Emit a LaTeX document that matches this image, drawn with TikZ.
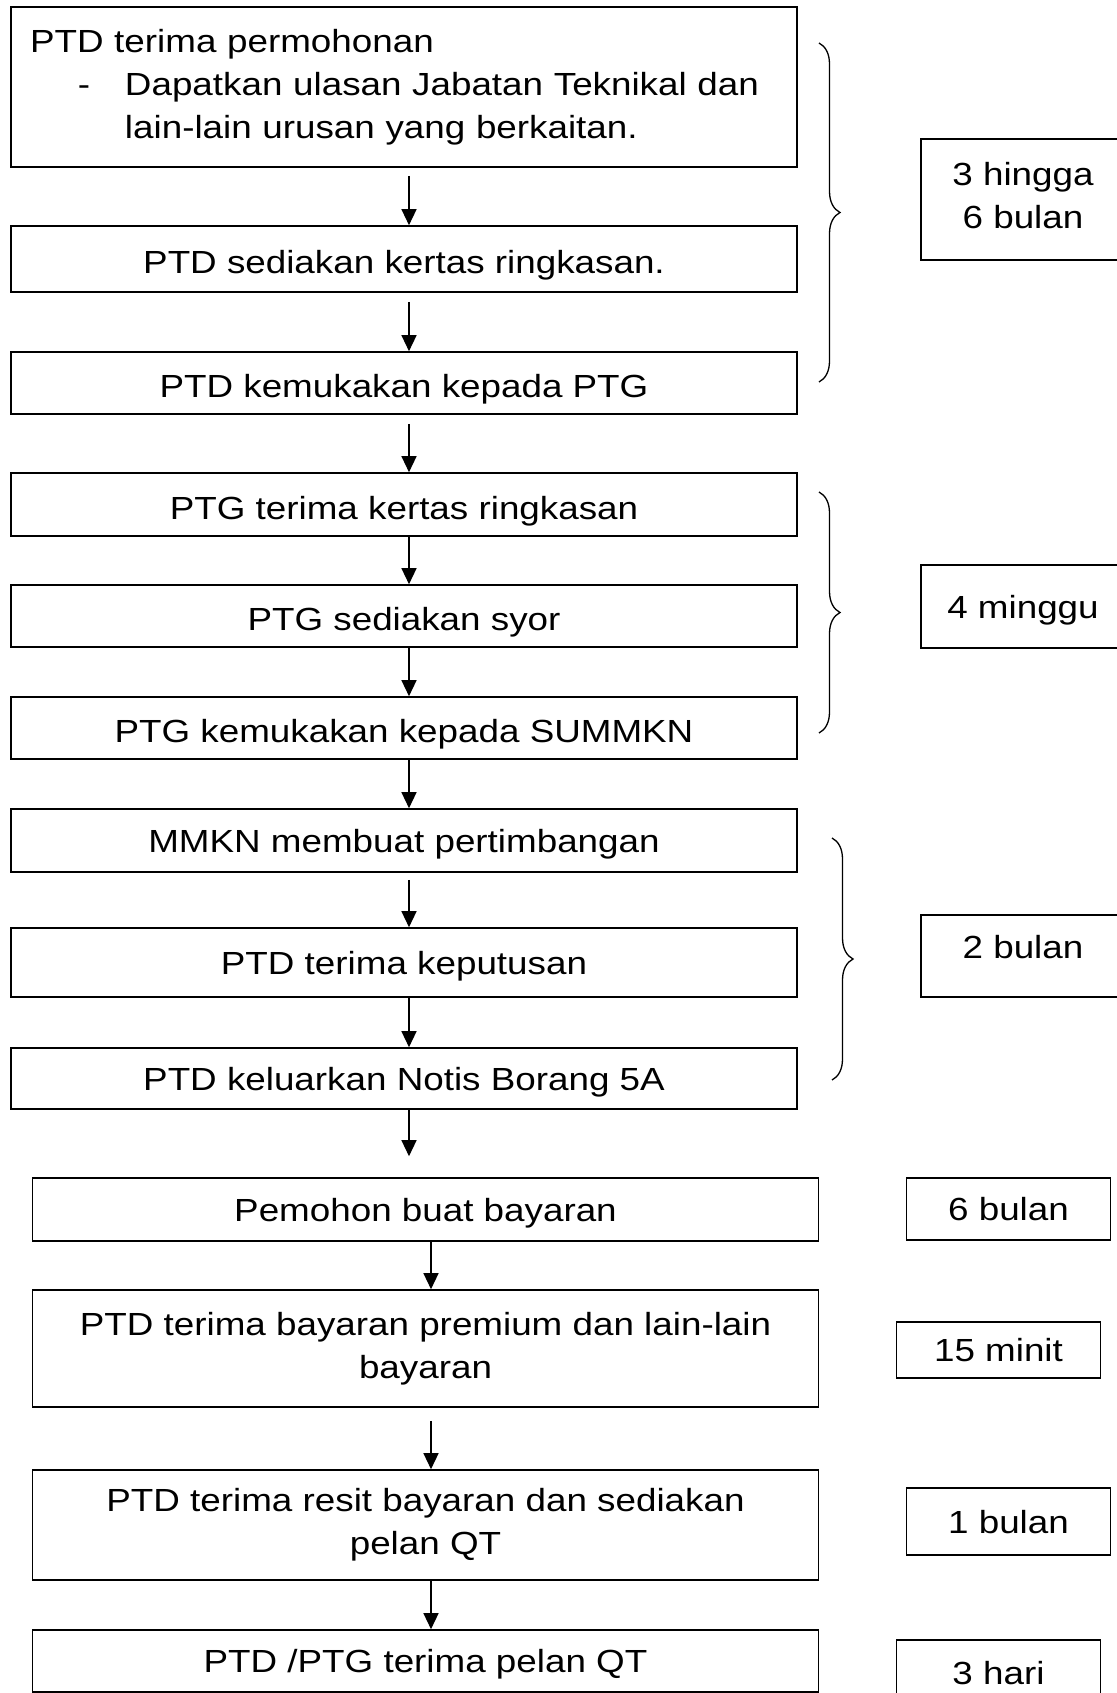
\documentclass[tikz,border=0pt]{standalone}
\usepackage{fontspec}
\setmainfont[FakeStretch=1.15]{Liberation Sans}
\usepackage{tikz}
\usetikzlibrary{positioning,arrows.meta,decorations.pathreplacing,calc}

\begin{document}
\begin{tikzpicture}[x=1pt,y=-1pt,>={Triangle[length=16pt,width=15pt]},font=\fontsize{32}{43}\selectfont]
%\draw[gray,very thin] (0,0) grid (1116,1693);
\useasboundingbox (0,0) rectangle (1116,1693);
\tikzstyle{block} = [draw, shape=rectangle, minimum width=786pt, line width=1.6pt, inner sep=0pt]
\tikzstyle{single} = [block, text height=23pt, text depth=0pt]
\tikzstyle{timebox} = [draw, shape=rectangle, minimum width=204pt, line width=1.6pt, inner sep=0pt, text height=23pt, text depth=0pt]
\tikzstyle{bracket} = [decorate, decoration={brace, amplitude=21pt}, line width=1.3pt]
%Creating Blocks
\node at (404,87) [block, minimum height=160pt, text width=748pt, inner xsep=19pt, align=left] (b1) {PTD terima permohonan\\
\makebox[95pt][l]{\hspace*{48pt}-}Dapatkan ulasan Jabatan Teknikal dan\\
\hspace*{95pt}lain-lain urusan yang berkaitan.};
\node at (404,259) [single, minimum height=66pt, text height=29pt] (b2) {PTD sediakan kertas ringkasan.};
\node at (404,383) [single, minimum height=62pt, text height=29pt] (b3) {PTD kemukakan kepada PTG};
\node at (404,504.5) [single, minimum height=63pt, text height=29pt] (b4) {PTG terima kertas ringkasan};
\node at (404,616) [single, minimum height=62pt, text height=29pt] (b5) {PTG sediakan syor};
\node at (404,728) [single, minimum height=62pt, text height=29pt] (b6) {PTG kemukakan kepada SUMMKN};
\node at (404,840.5) [single, minimum height=63pt] (b7) {MMKN membuat pertimbangan};
\node at (404,962.5) [single, minimum height=69pt] (b8) {PTD terima keputusan};
\node at (404,1078.5) [single, minimum height=61pt] (b9) {PTD keluarkan Notis Borang 5A};
\node at (425.5,1209.5) [single, minimum height=63pt] (b10) {Pemohon buat bayaran};
\node at (425.5,1348.5) [block, minimum height=117pt, align=center] (b11) {PTD terima bayaran premium dan lain-lain\\ bayaran};
\node at (425.5,1525) [block, minimum height=110pt, align=center] (b12) {PTD terima resit bayaran dan sediakan\\ pelan QT};
\node at (425.5,1661) [single, minimum height=62pt] (b13) {PTD /PTG terima pelan QT};
%Time boxes
\node at (1023,199.5) [draw, line width=1.6pt, inner sep=0pt, minimum width=204pt, minimum height=121pt, align=center, text depth=9pt] (t1) {3 hingga\\ 6 bulan};
\node at (1023,606.5) [timebox, minimum height=83pt] (t2) {4 minggu};
\node at (1023,956) [timebox, minimum height=82pt, text depth=18pt] (t3) {2 bulan};
\node at (1008.5,1209) [timebox, minimum height=62pt] (t4) {6 bulan};
\node at (998.5,1350) [timebox, minimum height=56pt] (t5) {15 minit};
\node at (1008.5,1521.5) [timebox, minimum height=67pt] (t6) {1 bulan};
\node at (998.5,1673) [timebox, minimum height=66pt] (t7) {3 hari};
%Braces
\coordinate (br1a) at (819,43);
\coordinate (br1b) at (819,382);
\coordinate (br2a) at (819,492);
\coordinate (br2b) at (819,733);
\coordinate (br3a) at (832,838);
\coordinate (br3b) at (832,1080);
\draw[bracket] (br1a) -- (br1b);
\draw[bracket] (br2a) -- (br2b);
\draw[bracket] (br3a) -- (br3b);
\begin{scope}[line width = 1.3pt]
\draw[->, shorten <=8pt] ([xshift=5pt]b1.south) -- ([xshift=5pt]b2.north);
\draw[->, shorten <=9pt] ([xshift=5pt]b2.south) -- ([xshift=5pt]b3.north);
\draw[->, shorten <=9pt] ([xshift=5pt]b3.south) -- ([xshift=5pt]b4.north);
\draw[->] ([xshift=5pt]b4.south) -- ([xshift=5pt]b5.north);
\draw[->] ([xshift=5pt]b5.south) -- ([xshift=5pt]b6.north);
\draw[->] ([xshift=5pt]b6.south) -- ([xshift=5pt]b7.north);
\draw[->, shorten <=7pt] ([xshift=5pt]b7.south) -- ([xshift=5pt]b8.north);
\draw[->] ([xshift=5pt]b8.south) -- ([xshift=5pt]b9.north);
\draw[->, shorten >=21pt] ([xshift=5pt]b9.south) -- ([xshift=5pt]b9.south |- b10.north);
\draw[->] ([xshift=5.5pt]b10.south) -- ([xshift=5.5pt]b11.north);
\draw[->, shorten <=13pt] ([xshift=5.5pt]b11.south) -- ([xshift=5.5pt]b12.north);
\draw[->] ([xshift=5.5pt]b12.south) -- ([xshift=5.5pt]b13.north);
\end{scope}

\end{tikzpicture}
\end{document}
